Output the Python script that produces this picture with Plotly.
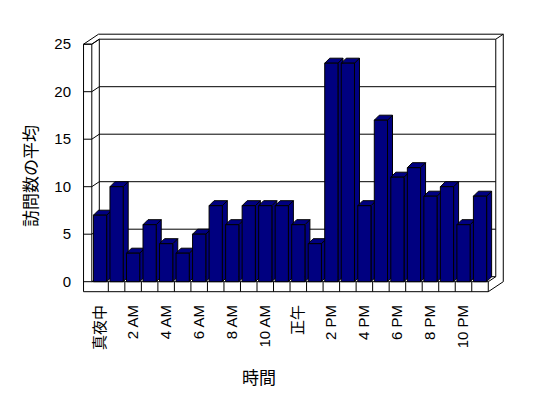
import plotly.graph_objects as go

# ---------------- data ----------------
HOUR_LABELS = ["真夜中", "1 AM", "2 AM", "3 AM", "4 AM", "5 AM", "6 AM", "7 AM",
               "8 AM", "9 AM", "10 AM", "11 AM", "正午", "1 PM", "2 PM", "3 PM",
               "4 PM", "5 PM", "6 PM", "7 PM", "8 PM", "9 PM", "10 PM", "11 PM"]
VISITS_AVG = [7, 10, 3, 6, 4, 3, 5, 8, 6, 8, 8, 8, 6, 4, 23, 23, 8, 17, 11, 12, 9, 10, 6, 9]
Y_TICKS = [0, 5, 10, 15, 20, 25]
LABEL_STEP = 2
Y_TITLE = "訪問数の平均"
X_TITLE = "時間"

# ---------------- layout constants ----------------
W, H = 548, 398
ML, MR, MT, MB = 81, 43, 32, 104
CAT_PX = 16.52        # pixels per category
X0_PX = 91.8          # pixel of front-left edge of category 0
Y_PX = 9.5            # pixels per value unit
Y0_PX = 281.7         # pixel of value 0 on the front plane

NAVY = "#000080"
LAT = "Liberation Sans, Arial, Noto Sans CJK JP, sans-serif"
CJK = "Noto Sans CJK JP, sans-serif"

n = len(VISITS_AVG)
idx = list(range(n))
ymax = Y_TICKS[-1]

x_range = [(ML - X0_PX) / CAT_PX - 0.5, (W - MR - X0_PX) / CAT_PX - 0.5]
y_range = [(Y0_PX - (H - MB)) / Y_PX, (Y0_PX - MT) / Y_PX]

# depth offsets (data units)
DX = 7.5 / CAT_PX
DY = 5.0 / Y_PX
BDX = 5.0 / CAT_PX
BDY = 5.0 / Y_PX
FT = 10.0 / Y_PX       # floor thickness
BW = 0.8               # bar front width

xi = -0.5
xR = n - 0.5
xo = xi - 0.5
yb = -FT

shapes = []


def line(x0, y0, x1, y1):
    shapes.append(dict(type="line", xref="x", yref="y", x0=x0, y0=y0, x1=x1, y1=y1,
                       line=dict(color="black", width=1), layer="below"))


def poly(pts, fill="white"):
    path = "M " + " L ".join(f"{px},{py}" for px, py in pts) + " Z"
    shapes.append(dict(type="path", xref="x", yref="y", path=path, fillcolor=fill,
                       line=dict(color="black", width=1), layer="below"))


# outer silhouette of walls + floor
poly([(xo, yb), (xo, ymax), (xo + 2 * DX, ymax + 2 * DY), (xR + 2 * DX, ymax + 2 * DY),
      (xR + 2 * DX, yb + 2 * DY), (xR, yb)])
# back wall front face
poly([(xi + DX, DY), (xR + DX, DY), (xR + DX, ymax + DY), (xi + DX, ymax + DY)])
# top edges
line(xR + DX, ymax + DY, xR + 2 * DX, ymax + 2 * DY)
line(xi, ymax, xi + DX, ymax + DY)
line(xo, ymax, xi, ymax)
# left wall front face inner edge
line(xi, 0, xi, ymax)
# floor edges
line(xi, 0, xR, 0)
line(xR, yb, xR, 0)
line(xR, 0, xR + DX, DY)
# category ticks on floor front
for k in range(1, n):
    line(k - 0.5, yb, k - 0.5, 0)
# value ticks on left wall + gridlines on back wall
for v in Y_TICKS:
    line(xo, v, xi, v)
    line(xi, v, xi + DX, v + DY)
    if 0 < v < ymax:
        line(xi + DX, v + DY, xR + DX, v + DY)

fig = go.Figure()

# top and side faces of the 3D bars (drawn left to right, under the fronts)
for i, h in zip(idx, VISITS_AVG):
    l, r = i - BW / 2, i + BW / 2
    top = [(l, h), (r, h), (r + BDX, h + BDY), (l + BDX, h + BDY)]
    side = [(r, 0), (r + BDX, BDY), (r + BDX, h + BDY), (r, h)]
    for face in (side, top):
        xs = [p[0] for p in face] + [face[0][0]]
        ys = [p[1] for p in face] + [face[0][1]]
        fig.add_trace(go.Scatter(x=xs, y=ys, mode="lines", fill="toself", fillcolor=NAVY,
                                 line=dict(color="black", width=1), hoverinfo="skip",
                                 showlegend=False, xaxis="x", yaxis="y"))

# front faces: real bar trace on an overlaying subplot so it sits above the faces
fig.add_trace(go.Bar(x=idx, y=VISITS_AVG, width=BW, xaxis="x2", yaxis="y2",
                     marker=dict(color=NAVY, line=dict(color="black", width=1)),
                     showlegend=False, hovertext=HOUR_LABELS))

tickvals = idx[::LABEL_STEP]
ticktext = HOUR_LABELS[::LABEL_STEP]


def paper_x(px):
    return (px - ML) / (W - ML - MR)


def paper_y(py):
    return (H - MB - py) / (H - MT - MB)


fig.update_layout(
    width=W, height=H, autosize=False,
    margin=dict(l=ML, r=MR, t=MT, b=MB, pad=0),
    paper_bgcolor="white", plot_bgcolor="white",
    showlegend=False,
    shapes=shapes,
    xaxis=dict(range=x_range, showgrid=False, zeroline=False, showline=False, ticks="",
               tickvals=tickvals, ticktext=ticktext, tickangle=-90,
               tickfont=dict(family=LAT, size=15, color="black"),
               ticklabelstandoff=7, fixedrange=True),
    yaxis=dict(range=y_range, showgrid=False, zeroline=False, showline=False, ticks="",
               tickvals=Y_TICKS, tickfont=dict(family=LAT, size=15, color="black"),
               ticklabelstandoff=9, fixedrange=True),
    xaxis2=dict(range=x_range, overlaying="x", anchor="y2", visible=False, fixedrange=True),
    yaxis2=dict(range=y_range, overlaying="y", anchor="x2", visible=False, fixedrange=True),
    annotations=[
        dict(text=Y_TITLE, xref="paper", yref="paper", x=paper_x(29), y=paper_y(176),
             xanchor="center", yanchor="middle", textangle=-90, showarrow=False,
             font=dict(family=CJK, size=17, color="black")),
        dict(text=X_TITLE, xref="paper", yref="paper", x=paper_x(259), y=paper_y(376),
             xanchor="center", yanchor="middle", showarrow=False,
             font=dict(family=CJK, size=17, color="black")),
    ],
)

fig.write_html("out.html")
